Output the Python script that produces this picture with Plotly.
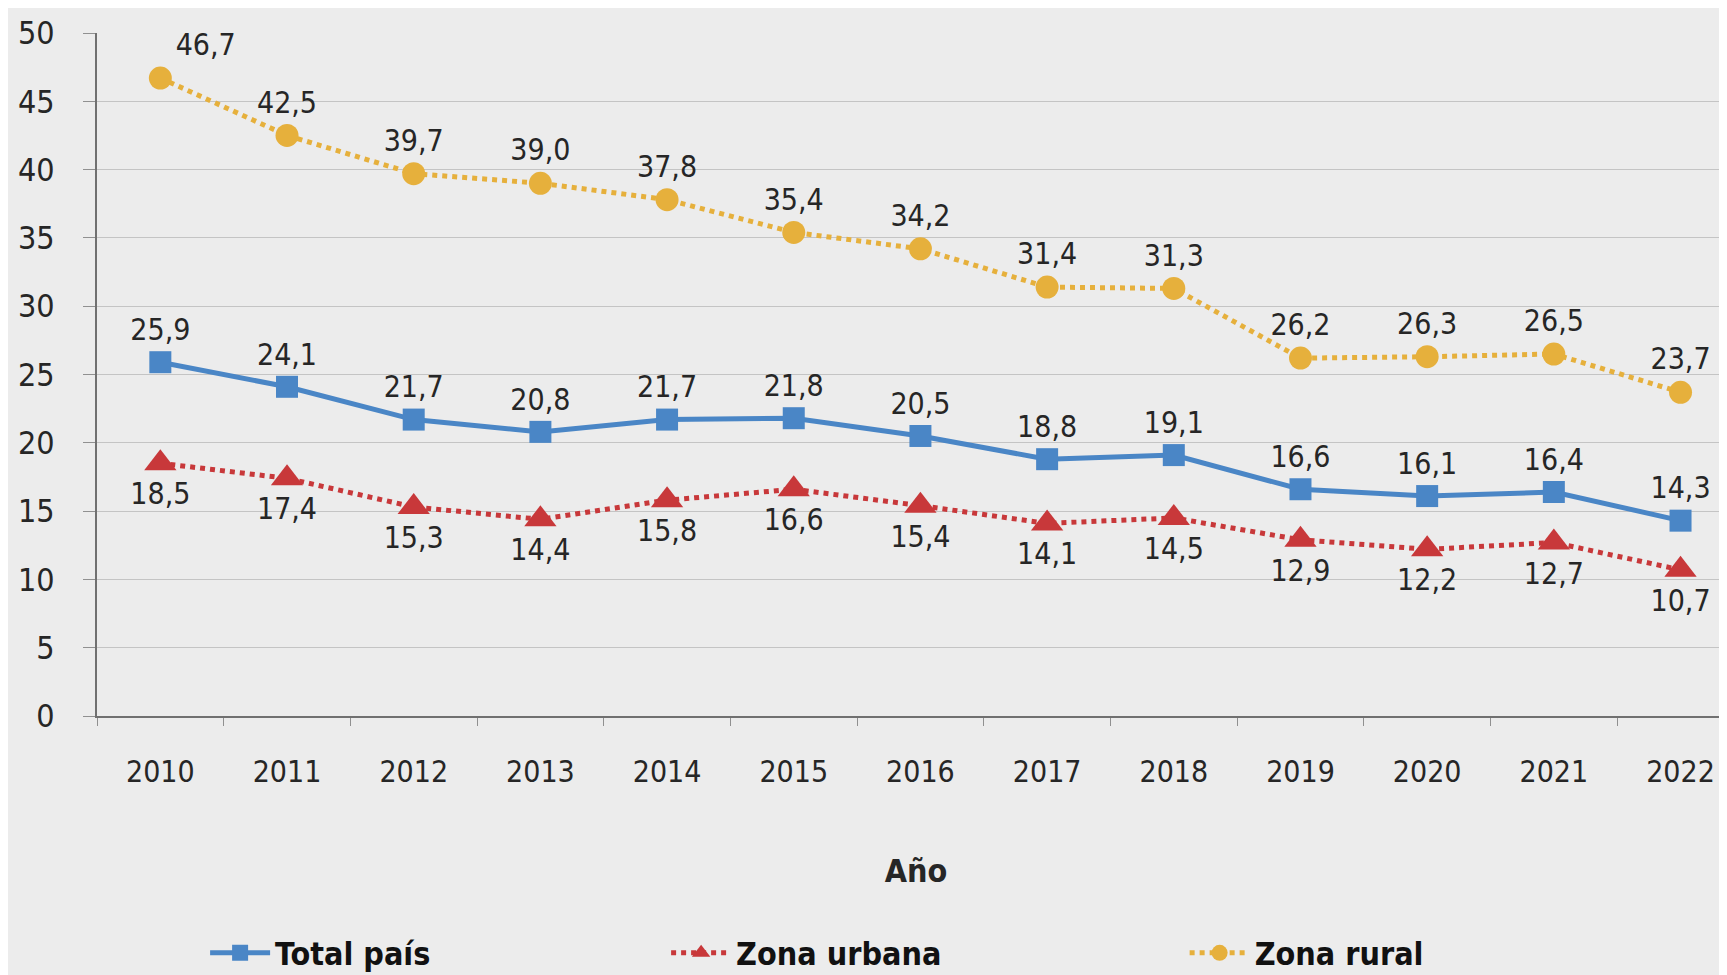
import plotly.graph_objects as go

years = ["2010", "2011", "2012", "2013", "2014", "2015", "2016", "2017", "2018", "2019", "2020", "2021", "2022"]
total_pais = [25.9, 24.1, 21.7, 20.8, 21.7, 21.8, 20.5, 18.8, 19.1, 16.6, 16.1, 16.4, 14.3]
zona_urbana = [18.5, 17.4, 15.3, 14.4, 15.8, 16.6, 15.4, 14.1, 14.5, 12.9, 12.2, 12.7, 10.7]
zona_rural = [46.7, 42.5, 39.7, 39.0, 37.8, 35.4, 34.2, 31.4, 31.3, 26.2, 26.3, 26.5, 23.7]

def fmt(v):
    return f"{v:.1f}".replace(".", ",")

FONT = "DejaVu Sans Condensed, Liberation Sans Narrow, Arial Narrow, sans-serif"
BLUE = "#4a86c6"
RED = "#c8383a"
GOLD = "#e6b03c"
TXT = "#262626"
FS = 30

fig = go.Figure()
fig.add_trace(go.Scatter(
    x=years, y=total_pais, name="<b>Total país</b>", mode="lines+markers+text",
    line=dict(color=BLUE, width=5),
    marker=dict(symbol="square", size=22, color=BLUE),
    text=[fmt(v) for v in total_pais], textposition="top center",
    textfont=dict(size=FS, color=TXT, family=FONT), cliponaxis=False,
    legend="legend",
))
fig.add_trace(go.Scatter(
    x=years, y=zona_urbana, name="<b>Zona urbana</b>", mode="lines+markers+text",
    line=dict(color=RED, width=5, dash="dot"),
    marker=dict(symbol="triangle-up", size=28, color=RED),
    text=[fmt(v) for v in zona_urbana], textposition="bottom center",
    textfont=dict(size=FS, color=TXT, family=FONT), cliponaxis=False,
    legend="legend",
))
fig.add_trace(go.Scatter(
    x=years, y=zona_rural, name="<b>Zona rural</b>", mode="lines+markers+text",
    line=dict(color=GOLD, width=5, dash="dot"),
    marker=dict(symbol="circle", size=23, color=GOLD),
    text=[fmt(v) for v in zona_rural],
    textposition=["top right"] + ["top center"] * 12,
    textfont=dict(size=FS, color=TXT, family=FONT), cliponaxis=False,
    legend="legend2",
))

leg_common = dict(orientation="h", xanchor="left", y=-0.347, yanchor="middle",
                  font=dict(size=32, color="#111111", family=FONT),
                  bgcolor="rgba(0,0,0,0)", itemwidth=60)

fig.update_layout(
    width=1727, height=975,
    margin=dict(l=89, r=0, t=25, b=267, autoexpand=False),
    paper_bgcolor="#ececec", plot_bgcolor="#ececec",
    font=dict(family=FONT, color=TXT, size=FS),
    showlegend=True,
    legend=dict(x=0.066, entrywidth=386, entrywidthmode="pixels", **leg_common),
    legend2=dict(x=0.664, **leg_common),
    xaxis=dict(type="category", range=[-0.5, 12.43], showgrid=False,
               showline=True, linecolor="#707070", linewidth=2,
               ticks="outside", tickson="boundaries", ticklen=8, tickcolor="#909090",
               ticklabelstandoff=28,
               tickfont=dict(size=FS, color=TXT, family=FONT),
               title=dict(text="<b>Año</b>", font=dict(size=32, color=TXT, family=FONT), standoff=72)),
    yaxis=dict(range=[0, 50], dtick=5, showgrid=True, gridcolor="#c4c4c4", gridwidth=1,
               showline=True, linecolor="#707070", linewidth=2, zeroline=False,
               ticks="outside", ticklen=12, tickcolor="#909090",
               ticklabelstandoff=22,
               tickfont=dict(size=FS + 2, color=TXT, family=FONT)),
)

fig.write_html("out.html")
